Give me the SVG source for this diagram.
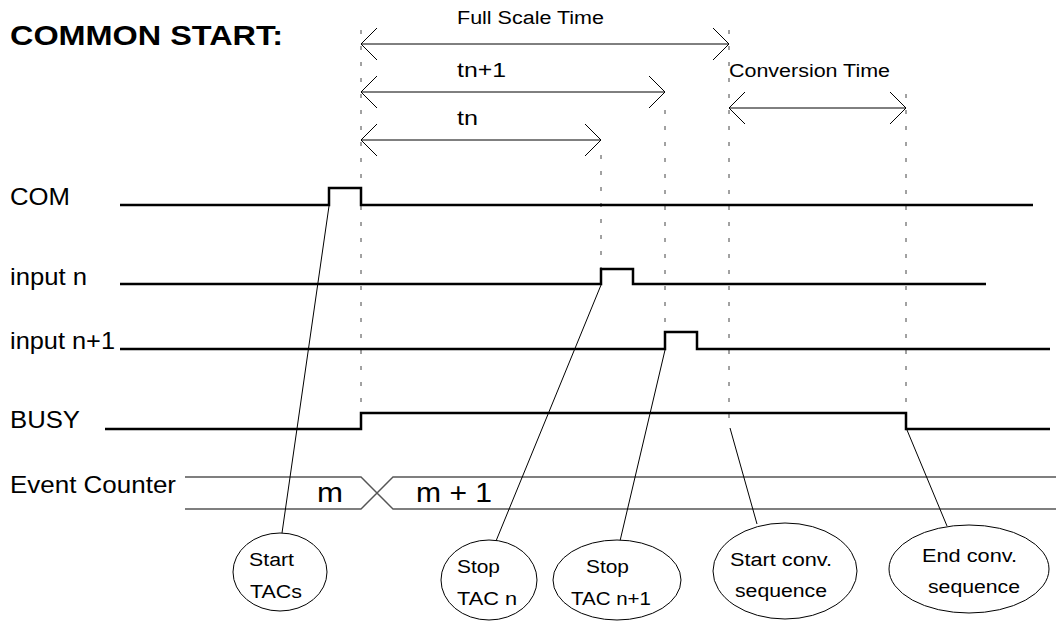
<svg xmlns="http://www.w3.org/2000/svg" width="1056" height="624" viewBox="0 0 1056 624">
<style>
text{font-family:"Liberation Sans",Arial,Helvetica,sans-serif;fill:#000}
.title{font-size:28px;font-weight:bold}
.sig{font-size:24px}
.dim{font-size:18px}
.big{font-size:20px}
.cnt{font-size:28px}
.nt{font-size:18px}
.wave{fill:none;stroke:#000;stroke-width:2.5}
.bus{fill:none;stroke:#555;stroke-width:1.4}
.guide{fill:none;stroke:#444;stroke-width:1;stroke-dasharray:4 12}
.arr{fill:none;stroke:#000;stroke-width:1}
.con{fill:none;stroke:#000;stroke-width:1}
.ell{fill:#fff;stroke:#000;stroke-width:1}
</style>
<rect width="1056" height="624" fill="#fff"/>
<text class="title" x="10" y="45" textLength="273" lengthAdjust="spacingAndGlyphs">COMMON START:</text>
<g id="guides">
<line class="guide" x1="361" y1="30" x2="361" y2="413"/>
<line class="guide" x1="601" y1="155" x2="601" y2="269"/>
<line class="guide" x1="665" y1="110" x2="665" y2="332"/>
<line class="guide" x1="729" y1="30" x2="729" y2="423"/>
<line class="guide" x1="906" y1="94" x2="906" y2="413"/>
</g>
<g id="dimensions">
<path class="arr" d="M361 44H729M377 28L361 44L377 60M713 28L729 44L713 60"/>
<text class="dim" x="457" y="24" textLength="147" lengthAdjust="spacingAndGlyphs">Full Scale Time</text>
<path class="arr" d="M361 92H665M377 76L361 92L377 108M649 76L665 92L649 108"/>
<text class="big" x="457" y="77" textLength="49" lengthAdjust="spacingAndGlyphs">tn+1</text>
<path class="arr" d="M361 140H601M377 124L361 140L377 156M585 124L601 140L585 156"/>
<text class="big" x="457" y="125" textLength="21" lengthAdjust="spacingAndGlyphs">tn</text>
<path class="arr" d="M729 108H906M745 92L729 108L745 124M890 92L906 108L890 124"/>
<text class="dim" x="729" y="77" textLength="161" lengthAdjust="spacingAndGlyphs">Conversion Time</text>
</g>
<g id="sig-com">
<text class="sig" x="10" y="205" textLength="60" lengthAdjust="spacingAndGlyphs">COM</text>
<path class="wave" d="M120 205H329V188H361V205H1033"/>
</g>
<g id="sig-input-n">
<text class="sig" x="10" y="285" textLength="77" lengthAdjust="spacingAndGlyphs">input n</text>
<path class="wave" d="M120 284H601V269H633V284H986"/>
</g>
<g id="sig-input-n1">
<text class="sig" x="10" y="349" textLength="105" lengthAdjust="spacingAndGlyphs">input n+1</text>
<path class="wave" d="M120 349H665V332H697V349H1050"/>
</g>
<g id="sig-busy">
<text class="sig" x="10" y="428" textLength="70" lengthAdjust="spacingAndGlyphs">BUSY</text>
<path class="wave" d="M105 429H361V413H906V429H1050"/>
</g>
<g id="sig-counter">
<text class="sig" x="10" y="493" textLength="166" lengthAdjust="spacingAndGlyphs">Event Counter</text>
<path class="bus" d="M185 477H361L393 509H1056M185 509H361L393 477H1056"/>
<text class="cnt" x="317" y="502" textLength="26" lengthAdjust="spacingAndGlyphs">m</text>
<text class="cnt" x="416" y="502" textLength="76" lengthAdjust="spacingAndGlyphs">m + 1</text>
</g>
<g id="connectors">
<line class="con" x1="282" y1="533" x2="329" y2="206"/>
<line class="con" x1="496" y1="541" x2="601" y2="285"/>
<line class="con" x1="620" y1="541" x2="665" y2="350"/>
<line class="con" x1="757" y1="524" x2="730" y2="428"/>
<line class="con" x1="947" y1="526" x2="907" y2="430"/>
</g>
<g id="node-start-tacs">
<ellipse class="ell" cx="280" cy="572" rx="47" ry="39"/>
<text class="nt" x="249" y="566" textLength="45" lengthAdjust="spacingAndGlyphs">Start</text>
<text class="nt" x="250" y="598" textLength="52" lengthAdjust="spacingAndGlyphs">TACs</text>
</g>
<g id="node-stop-tac-n">
<ellipse class="ell" cx="489" cy="580" rx="48" ry="40"/>
<text class="nt" x="457" y="573" textLength="43" lengthAdjust="spacingAndGlyphs">Stop</text>
<text class="nt" x="457" y="605" textLength="60" lengthAdjust="spacingAndGlyphs">TAC n</text>
</g>
<g id="node-stop-tac-n1">
<ellipse class="ell" cx="617" cy="580" rx="64" ry="40"/>
<text class="nt" x="586" y="573" textLength="43" lengthAdjust="spacingAndGlyphs">Stop</text>
<text class="nt" x="571" y="605" textLength="80" lengthAdjust="spacingAndGlyphs">TAC n+1</text>
</g>
<g id="node-start-conv">
<ellipse class="ell" cx="785" cy="571" rx="72" ry="48"/>
<text class="nt" x="730" y="566" textLength="102" lengthAdjust="spacingAndGlyphs">Start conv.</text>
<text class="nt" x="735" y="597" textLength="92" lengthAdjust="spacingAndGlyphs">sequence</text>
</g>
<g id="node-end-conv">
<ellipse class="ell" cx="969" cy="569" rx="80" ry="44"/>
<text class="nt" x="922" y="562" textLength="95" lengthAdjust="spacingAndGlyphs">End conv.</text>
<text class="nt" x="928" y="593" textLength="92" lengthAdjust="spacingAndGlyphs">sequence</text>
</g>
</svg>
